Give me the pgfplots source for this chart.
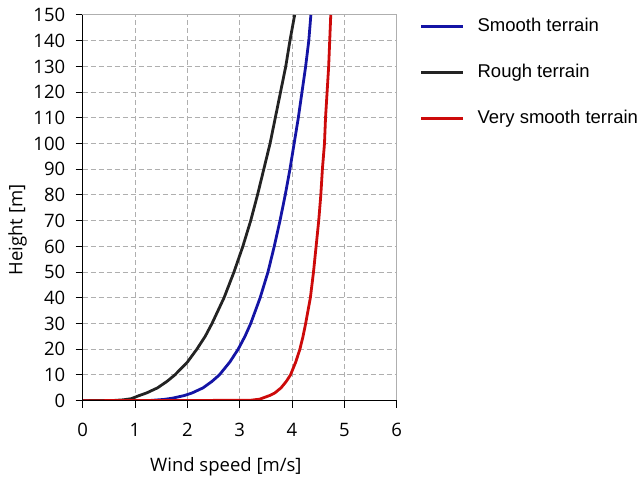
\documentclass[border=0pt]{standalone}
\usepackage{fontspec}
\setmainfont{Open Sans}
\newfontfamily\legfont{Liberation Sans}
\usepackage{pgfplots}
\pgfplotsset{compat=1.18}
\definecolor{cblue}{RGB}{20,20,165}
\definecolor{cblack}{RGB}{35,35,35}
\definecolor{cred}{RGB}{205,10,10}
\definecolor{cgrid}{RGB}{175,175,175}
\begin{document}
\begin{tikzpicture}
\path (-82.7pt,-76.3pt) rectangle (560.3pt,400.7pt);
\begin{axis}[
  at={(0,0)}, anchor=south west,
  scale only axis, width=314pt, height=385.7pt,
  xmin=0, xmax=6, ymin=0, ymax=150,
  xtick={0,1,...,6}, ytick={0,10,...,150},
  /pgf/number format/assume math mode=true,
  font=\fontsize{18.5}{22}\selectfont,
  grid=major,
  major grid style={dash pattern=on 5pt off 3pt, cgrid, line width=1pt},
  axis line style={cgrid, line width=1pt},
  xtick pos=bottom, ytick pos=left,
  tick align=outside, major tick length=7pt,
  tick style={black, line width=1pt},
  xticklabel style={yshift=-12pt},
  yticklabel style={xshift=-7pt},
  xlabel={Wind speed [m/s]},
  ylabel={Height [m]},
  xlabel style={at={(axis description cs:0.456,-0.171)}, anchor=center},
  ylabel style={at={(axis description cs:-0.2076,0.4426)}, anchor=center},
  legend style={at={(axis description cs:1.073,0.995)}, anchor=north west,
    draw=none, fill=none, inner sep=0pt,
    font=\legfont\fontsize{18.5}{22}\selectfont,
    nodes={inner sep=0pt, text height=14pt, text depth=4pt},
    row sep=28pt, column sep=13pt},
  legend cell align=left,
  legend image code/.code={\draw[#1] (0pt,0pt) -- (42pt,0pt);},
  after end axis/.code={\draw[black, line width=1.2pt] (rel axis cs:0,1) -- (rel axis cs:0,0) -- (rel axis cs:1,0);},
]
\addplot[cblue, line width=2.8pt, line join=round] coordinates {
(0,0) (1.3,0.1) (1.55,0.5) (1.72,1) (1.94,2) (2.09,3) (2.30,5) (2.47,7.5) (2.61,10) (2.81,15) (2.97,20) (3.10,25) (3.21,30) (3.39,40) (3.54,50) (3.66,60) (3.77,70) (3.87,80) (3.96,90) (4.04,100) (4.12,110) (4.19,120) (4.26,130) (4.32,140) (4.36,150)
};
\addlegendentry{Smooth terrain}
\addplot[cblack, line width=2.8pt, line join=round] coordinates {
(0,0) (0.6,0.1) (0.78,0.35) (0.93,0.8) (1.08,2) (1.22,3) (1.43,5) (1.61,7.5) (1.76,10) (2.00,15) (2.18,20) (2.34,25) (2.47,30) (2.70,40) (2.89,50) (3.06,60) (3.21,70) (3.34,80) (3.46,90) (3.58,100) (3.68,110) (3.78,120) (3.88,130) (3.96,140) (4.05,150)
};
\addlegendentry{Rough terrain}
\addplot[cred, line width=2.8pt, line join=round] coordinates {
(0,0) (3.2,0.15) (3.38,0.6) (3.45,1.1) (3.57,2) (3.67,3) (3.79,5) (3.89,7.5) (3.97,10) (4.07,15) (4.15,20) (4.21,25) (4.26,30) (4.35,40) (4.41,50) (4.46,60) (4.51,70) (4.55,80) (4.58,90) (4.62,100) (4.64,110) (4.67,120) (4.70,130) (4.72,140) (4.74,150)
};
\addlegendentry{Very smooth terrain}
\end{axis}
\end{tikzpicture}
\end{document}
